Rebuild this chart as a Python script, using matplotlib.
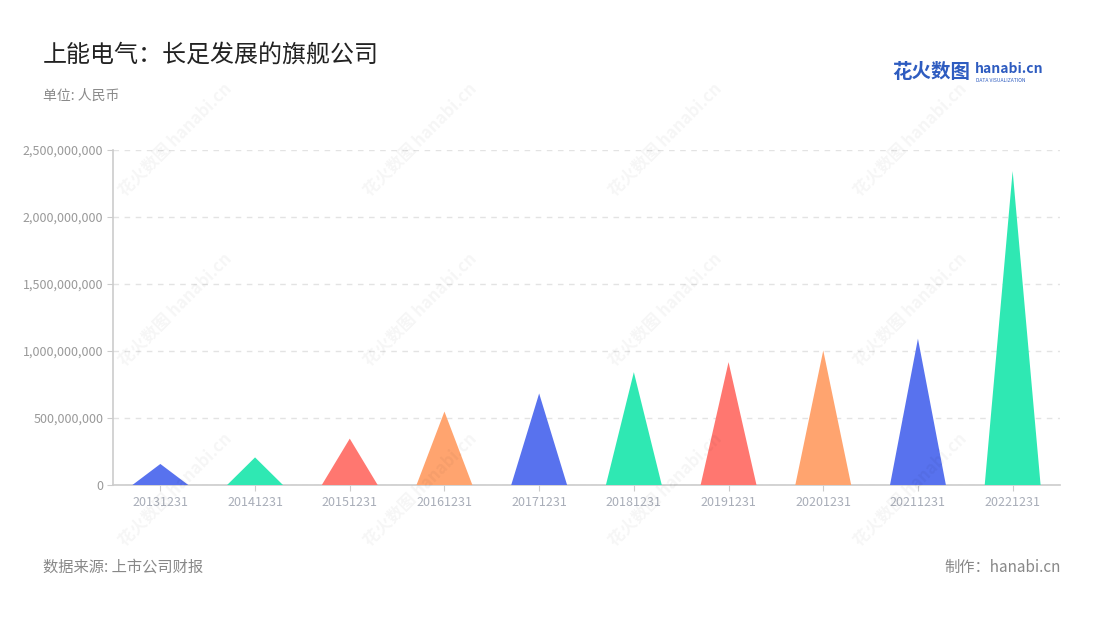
import matplotlib
matplotlib.use("Agg")
import matplotlib.pyplot as plt
from matplotlib.ticker import FuncFormatter, FixedLocator

plt.rcParams['font.family'] = ['Noto Sans CJK SC', 'DejaVu Sans']

categories = ["20131231", "20141231", "20151231", "20161231", "20171231",
              "20181231", "20191231", "20201231", "20211231", "20221231"]
values = [157e6, 206e6, 346e6, 548e6, 683e6, 842e6, 917e6, 1004e6, 1092e6, 2343e6]
palette = ["#5872EE", "#2FE8B3", "#FF7770", "#FFA46F"]
yticks = [0, 500e6, 1000e6, 1500e6, 2000e6, 2500e6]

fig = plt.figure(figsize=(11, 6.2), dpi=100)
ax = fig.add_axes([113/1100, 1-485/620, (1060-113)/1100, (485-150)/620])

w = 0.59
for i, v in enumerate(values):
    ax.fill([i - w/2, i, i + w/2], [0, v, 0], color=palette[i % 4], lw=0, zorder=3)

ax.set_xlim(-0.5, len(categories) - 0.5)
ax.set_ylim(0, 2500e6)
ax.yaxis.set_major_locator(FixedLocator(yticks))
ax.yaxis.set_major_formatter(FuncFormatter(lambda v, p: f"{int(v):,}"))
ax.set_xticks(range(len(categories)))
ax.set_xticklabels(categories)
ax.grid(axis='y', color='#e3e3e3', linestyle=(0, (4, 4)), lw=1, zorder=0)
for s in ['top', 'right']:
    ax.spines[s].set_visible(False)
for s in ['left', 'bottom']:
    ax.spines[s].set_color('#cccccc')
    ax.spines[s].set_linewidth(1.2)
ax.tick_params(axis='y', length=4, color='#cccccc', labelcolor='#999999', labelsize=9, pad=3)
ax.tick_params(axis='x', length=4, color='#cccccc', labelcolor='#a8adb8', labelsize=9, pad=4)

# watermarks
for xw in [175, 420, 665, 910]:
    for yw in [140, 310, 490]:
        fig.text(xw/1100, 1-yw/620, "花火数图 hanabi.cn", rotation=45, fontsize=12,
                 color='#000000', alpha=0.04, ha='center', va='center', fontweight='bold')

fig.text(43/1100, 1-55/620, "上能电气：长足发展的旗舰公司", fontsize=17.3, color='#222222', va='center')
fig.text(43/1100, 1-96/620, "单位: 人民币", fontsize=10, color='#8a8a8a', va='center')
fig.text(892/1100, 1-72/620, "花火数图", fontsize=14, color='#2e5cc0', fontweight='bold', va='center')
fig.text(975/1100, 1-69/620, "hanabi.cn", fontsize=10, color='#2e5cc0', fontweight='bold', va='center')
fig.text(976/1100, 1-80/620, "DATA VISUALIZATION", fontsize=3.6, color='#2e5cc0', va='center')
fig.text(43/1100, 1-567/620, "数据来源: 上市公司财报", fontsize=11, color='#888888', va='center')
fig.text(1061/1100, 1-567/620, "制作：hanabi.cn", fontsize=11, color='#888888', va='center', ha='right')

fig.savefig("out.png", dpi=100, facecolor='white')
